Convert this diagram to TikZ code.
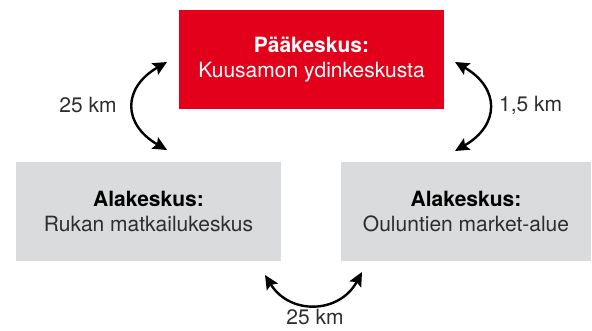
\documentclass[tikz,border=0pt]{standalone}
\usepackage{fontspec}
\setmainfont{TeX Gyre Heros}
\usetikzlibrary{arrows.meta}
\definecolor{hubred}{HTML}{E2001A}
\definecolor{subgray}{HTML}{DADBDC}
\definecolor{txtgray}{HTML}{2E2E2E}
\tikzset{
  box/.style = {fill=#1, minimum height=99pt, inner sep=0pt, align=center,
                font=\fontsize{21}{24.5}\selectfont},
  hub/.style = {box={hubred}, text=white, minimum width=265pt},
  sub/.style = {box={subgray}, text=txtgray, minimum width=#1},
  dist/.style = {color=#1, line width=2.4pt, >={Stealth[length=14pt,width=13pt,inset=2.5pt]}, <->},
  km/.style = {text=txtgray, inner sep=0pt, font=\fontsize{21}{24}\selectfont}
}

\begin{document}
\begin{tikzpicture}[x=1pt, y=1pt]
    \useasboundingbox (0,0) rectangle (592,331);

    %==== Centres ====
    \node[hub] (paa) at (311.5,271.5) {\textbf{Pääkeskus:}\\Kuusamon ydinkeskusta};
    \node[sub=265pt] (ruka) at (148.5,119.5) {\textcolor{black}{\textbf{Alakeskus:}}\\Rukan matkailukeskus};
    \node[sub=250pt] (oulu) at (466,119.5) {\textcolor{black}{\textbf{Alakeskus:}}\\Ouluntien market-alue};

    % Coordinates
    \coordinate (L1) at (167,269);
    \coordinate (L2) at (167,181);
    \coordinate (R1) at (455,269);
    \coordinate (R2) at (455,180);
    \coordinate (B1) at (265,56);
    \coordinate (B2) at (362,59);

    % Distances
    \draw[dist={black}] (L1) to[bend right=60, looseness=1.5] (L2);
    \draw[dist={black}] (R1) to[bend left=60, looseness=1.5] (R2);
    \draw[dist={black}] (B1) to[bend right=60, looseness=1.25] (B2);

    % Labels
    \node[km] (dL) at (88,225.5) {25 km};
    \node[km, anchor=west] (dR) at (499,225.5) {1,5 km};
    \node[km] (dB) at (315,13.5) {25 km};

\end{tikzpicture}
\end{document}
